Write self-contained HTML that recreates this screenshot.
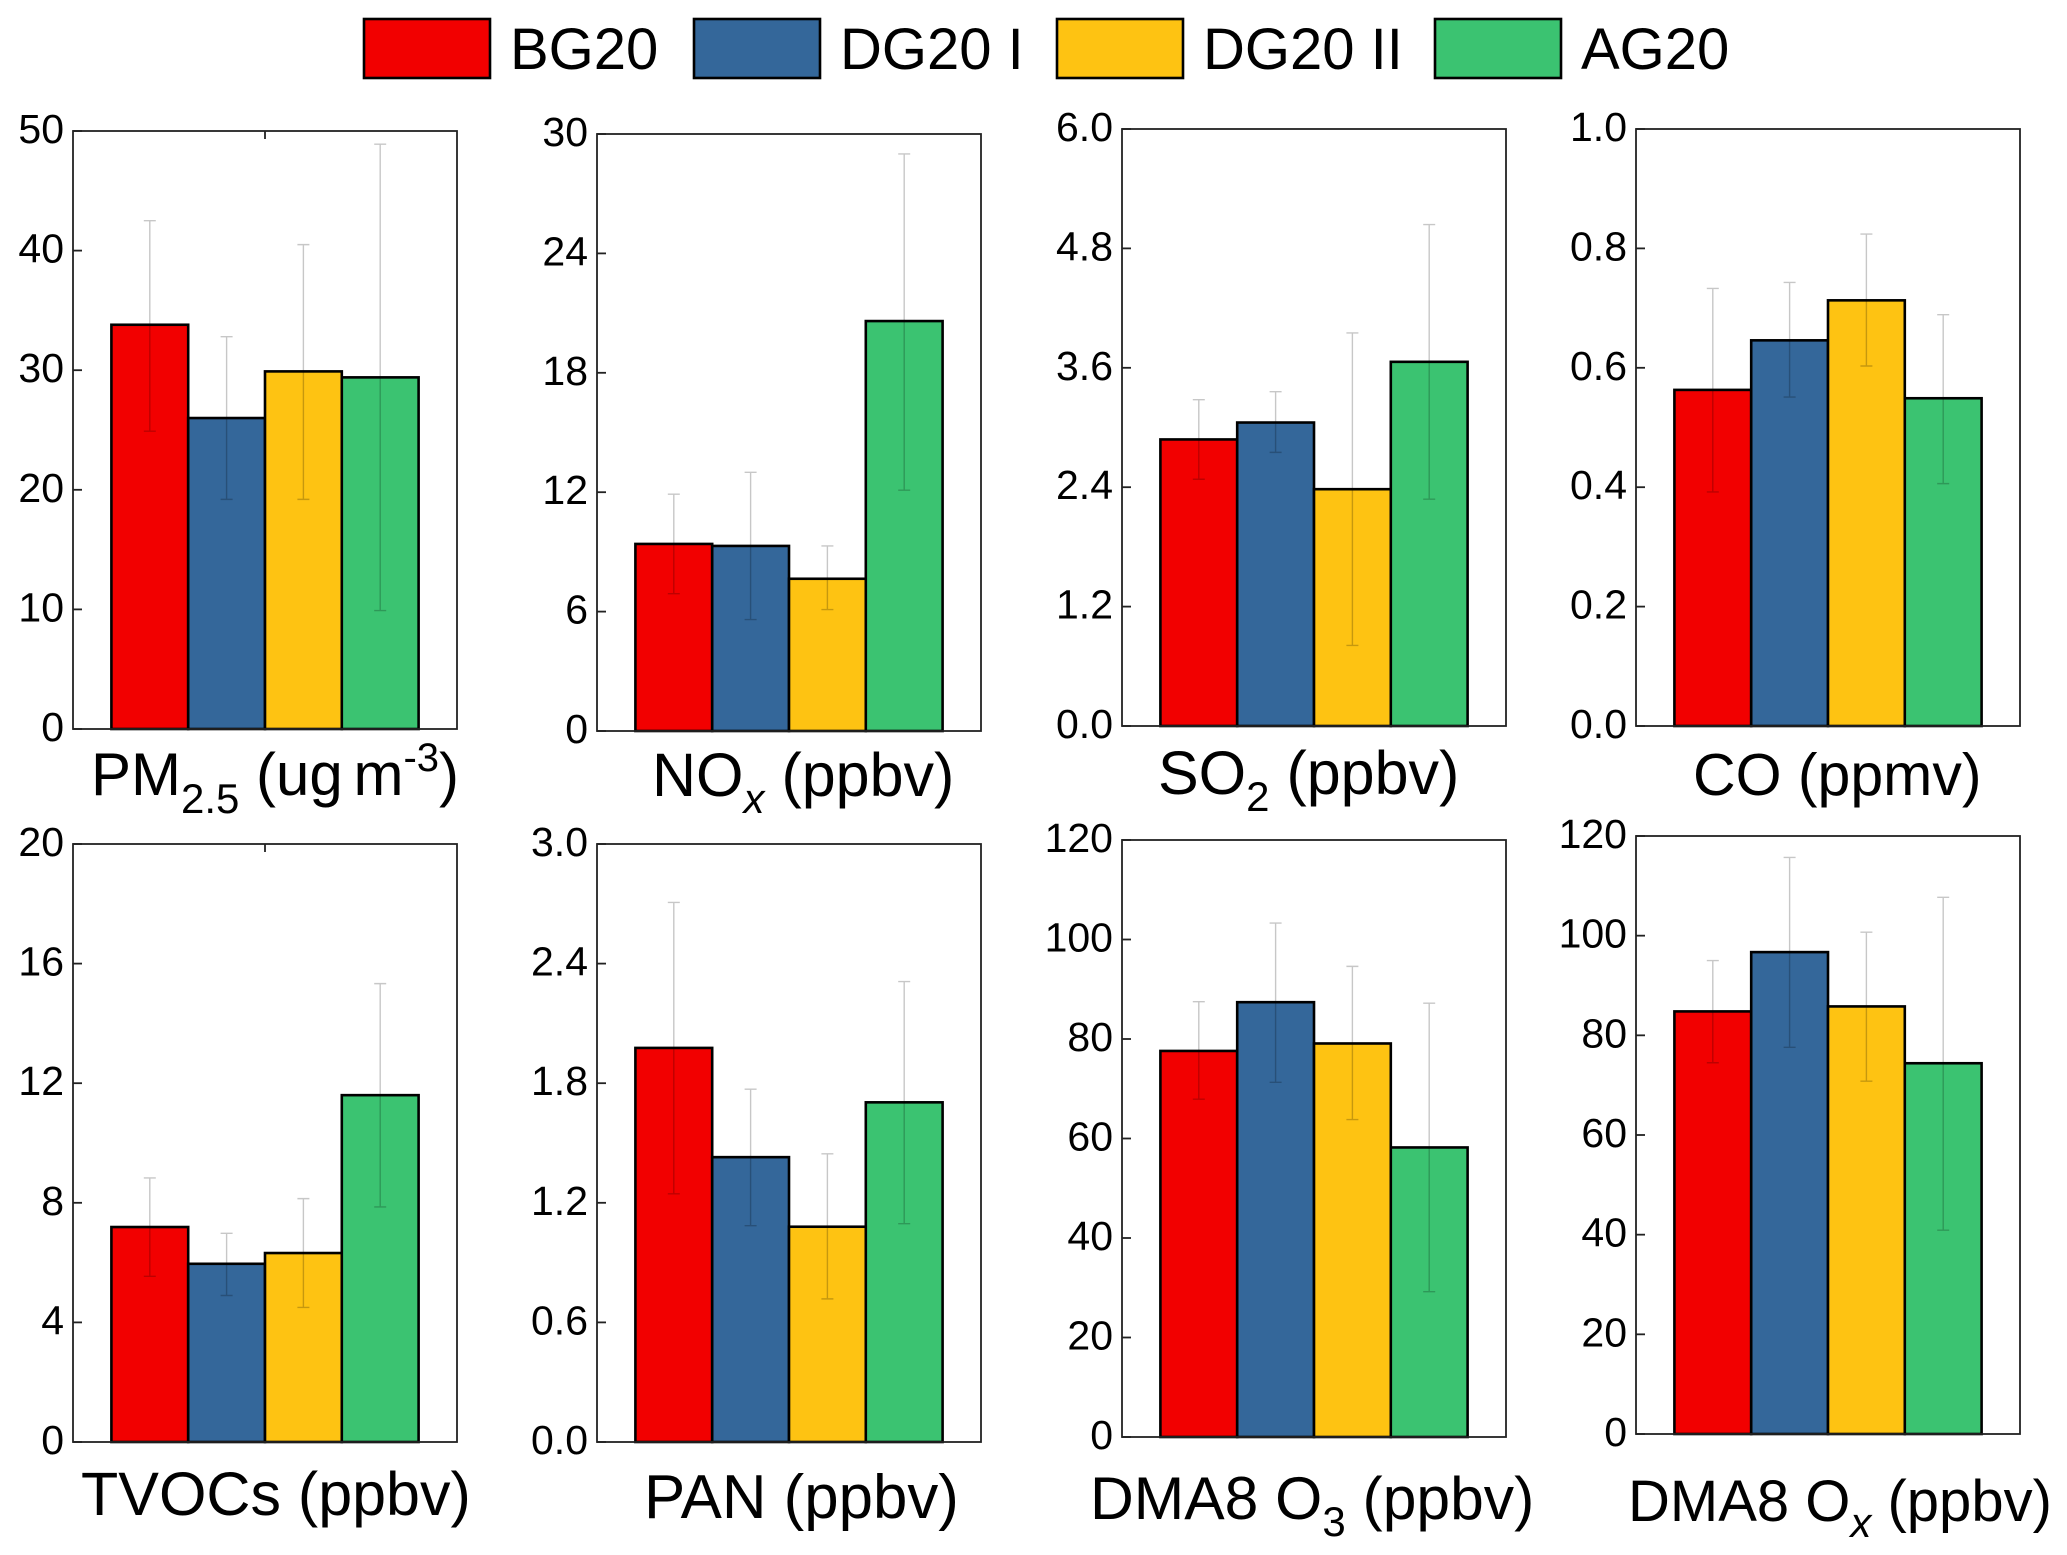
<!DOCTYPE html>
<html lang="en">
<head>
<meta charset="utf-8">
<title>Air quality by period</title>
<style>
html,body{margin:0;padding:0;background:#fff;}
svg{display:block;font-family:"Liberation Sans",Arial,sans-serif;fill:#000;}
.title{font-size:61px;}
.sub{font-size:42px;}
.legend-text{font-size:58px;}
.tick-label{font-size:41px;}
</style>
</head>
<body>
<svg id="chart" xmlns="http://www.w3.org/2000/svg" width="2067" height="1555" viewBox="0 0 2067 1555">
  <rect x="0" y="0" width="2067" height="1555" fill="#fff"/>
  <g>
    <g>
      <rect x="364" y="19" width="126" height="59" fill="#F20000" stroke="#000" stroke-width="2.6"/>
      <text class="legend-text" x="510" y="69">BG20</text>
    </g>
    <g>
      <rect x="694" y="19" width="126" height="59" fill="#34679A" stroke="#000" stroke-width="2.6"/>
      <text class="legend-text" x="840" y="69">DG20 I</text>
    </g>
    <g>
      <rect x="1057" y="19" width="126" height="59" fill="#FEC312" stroke="#000" stroke-width="2.6"/>
      <text class="legend-text" x="1203" y="69">DG20 II</text>
    </g>
    <g>
      <rect x="1435" y="19" width="126" height="59" fill="#3BC371" stroke="#000" stroke-width="2.6"/>
      <text class="legend-text" x="1581" y="69">AG20</text>
    </g>
  </g>
  <g>
    <text class="title" style="font-size:60px" x="91" y="795">PM<tspan class="sub" dy="18">2.5</tspan><tspan dy="-18"> (ug</tspan><tspan dx="-6"> m</tspan><tspan class="sub" style="font-size:40px" dy="-24">-3</tspan><tspan dy="24">)</tspan></text>
    <text class="title" x="652" y="796">NO<tspan class="sub" dy="17" font-style="italic">x</tspan><tspan dy="-17"> (ppbv)</tspan></text>
    <text class="title" x="1158" y="794">SO<tspan class="sub" dy="17">2</tspan><tspan dy="-17"> (ppbv)</tspan></text>
    <text class="title" style="font-size:59px" x="1693" y="795">CO (ppmv)</text>
    <text class="title" x="81" y="1515">TVOCs (ppbv)</text>
    <text class="title" style="font-size:61.8px" x="644" y="1518">PAN (ppbv)</text>
    <text class="title" style="font-size:60.6px" x="1090" y="1519">DMA8 O<tspan class="sub" dy="17">3</tspan><tspan dy="-17"> (ppbv)</tspan></text>
    <text class="title" style="font-size:58px" x="1628" y="1521">DMA8 O<tspan class="sub" dy="16" font-style="italic">x</tspan><tspan dy="-16"> (ppbv)</tspan></text>
  </g>
</svg>
<script>
const categories = ['BG20', 'DG20 I', 'DG20 II', 'AG20'];

const pm25Means = [33.8, 26.0, 29.9, 29.4];
const pm25Upper = [42.5, 32.8, 40.5, 48.9];
const pm25Lower = [24.9, 19.2, 19.2, 9.9];
const pm25Ticks = ['0', '10', '20', '30', '40', '50'];

const noxMeans = [9.4, 9.3, 7.65, 20.6];
const noxUpper = [11.9, 13.0, 9.3, 29.0];
const noxLower = [6.9, 5.6, 6.1, 12.1];
const noxTicks = ['0', '6', '12', '18', '24', '30'];

const so2Means = [2.88, 3.05, 2.38, 3.66];
const so2Upper = [3.28, 3.36, 3.95, 5.04];
const so2Lower = [2.48, 2.75, 0.81, 2.28];
const so2Ticks = ['0.0', '1.2', '2.4', '3.6', '4.8', '6.0'];

const coMeans = [0.563, 0.646, 0.713, 0.549];
const coUpper = [0.733, 0.743, 0.824, 0.689];
const coLower = [0.392, 0.551, 0.603, 0.406];
const coTicks = ['0.0', '0.2', '0.4', '0.6', '0.8', '1.0'];

const tvocsMeans = [7.19, 5.96, 6.32, 11.6];
const tvocsUpper = [8.83, 6.98, 8.14, 15.33];
const tvocsLower = [5.54, 4.9, 4.5, 7.86];
const tvocsTicks = ['0', '4', '8', '12', '16', '20'];

const panMeans = [1.977, 1.429, 1.08, 1.704];
const panUpper = [2.707, 1.77, 1.446, 2.31];
const panLower = [1.245, 1.085, 0.718, 1.095];
const panTicks = ['0.0', '0.6', '1.2', '1.8', '2.4', '3.0'];

const o3Means = [77.6, 87.4, 79.1, 58.2];
const o3Upper = [87.5, 103.3, 94.6, 87.2];
const o3Lower = [67.9, 71.3, 63.8, 29.2];
const o3Ticks = ['0', '20', '40', '60', '80', '100', '120'];

const oxMeans = [84.8, 96.7, 85.8, 74.4];
const oxUpper = [95.0, 115.7, 100.7, 107.7];
const oxLower = [74.5, 77.6, 70.8, 40.9];
const oxTicks = ['0', '20', '40', '60', '80', '100', '120'];

const colors = ['#F20000', '#34679A', '#FEC312', '#3BC371'];

const panels = [
  {id: 'pm25', means: pm25Means, upper: pm25Upper, lower: pm25Lower, ticks: pm25Ticks, left: 73, right: 457, top: 131, bottom: 729, topTick: true},
  {id: 'nox', means: noxMeans, upper: noxUpper, lower: noxLower, ticks: noxTicks, left: 597, right: 981, top: 134, bottom: 731, topTick: false},
  {id: 'so2', means: so2Means, upper: so2Upper, lower: so2Lower, ticks: so2Ticks, left: 1122, right: 1506, top: 129, bottom: 726, topTick: false},
  {id: 'co', means: coMeans, upper: coUpper, lower: coLower, ticks: coTicks, left: 1636, right: 2020, top: 129, bottom: 726, topTick: false},
  {id: 'tvocs', means: tvocsMeans, upper: tvocsUpper, lower: tvocsLower, ticks: tvocsTicks, left: 73, right: 457, top: 844, bottom: 1442, topTick: true},
  {id: 'pan', means: panMeans, upper: panUpper, lower: panLower, ticks: panTicks, left: 597, right: 981, top: 844, bottom: 1442, topTick: false},
  {id: 'o3', means: o3Means, upper: o3Upper, lower: o3Lower, ticks: o3Ticks, left: 1122, right: 1506, top: 840, bottom: 1437, topTick: false},
  {id: 'ox', means: oxMeans, upper: oxUpper, lower: oxLower, ticks: oxTicks, left: 1636, right: 2020, top: 836, bottom: 1434, topTick: false}
];

const NS = 'http://www.w3.org/2000/svg';
const svg = document.getElementById('chart');

function make(parent, tag, props) {
  const el = document.createElementNS(NS, tag);
  for (const k in props) el.setAttribute(k, props[k]);
  parent.appendChild(el);
  return el;
}

function drawPanel(p) {
  const width = p.right - p.left;
  const domainMax = parseFloat(p.ticks[p.ticks.length - 1]);
  const yScale = function (v) { return p.bottom - (v / domainMax) * (p.bottom - p.top); };
  const bandWidth = width * 0.2;
  const xScale = function (i) { return p.left + width * 0.1 + i * bandWidth; };

  const g = make(svg, 'g', {});
  
  

  categories.forEach(function (cat, i) {
    const y = yScale(p.means[i]);
    const bar = make(g, 'rect', {x: xScale(i), y: y, width: bandWidth, height: p.bottom - y, fill: colors[i], stroke: '#000', 'stroke-width': 2.6});
    
    
  });

  categories.forEach(function (cat, i) {
    const cx = xScale(i) + bandWidth / 2;
    const yHigh = yScale(p.upper[i]);
    const yLow = yScale(p.lower[i]);
    const err = make(g, 'path', {
      d: 'M' + cx + ' ' + yHigh + 'V' + yLow + 'M' + (cx - 6) + ' ' + yHigh + 'H' + (cx + 6) + 'M' + (cx - 6) + ' ' + yLow + 'H' + (cx + 6),
      fill: 'none', stroke: 'rgba(0,0,0,0.22)', 'stroke-width': 1.4
    });
    
    
  });

  const frame = make(g, 'rect', {x: p.left, y: p.top, width: width, height: p.bottom - p.top, fill: 'none', stroke: '#222', 'stroke-width': 1.8});
  
  

  p.ticks.forEach(function (label) {
    const y = yScale(parseFloat(label));
    const tick = make(g, 'line', {x1: p.left, x2: p.left + 9, y1: y, y2: y, stroke: '#222', 'stroke-width': 1.8});
    
    
    const text = make(g, 'text', {x: p.left - 9, y: y + 12, 'text-anchor': 'end', class: 'tick-label'});
    
    
    text.textContent = label;
  });

  if (p.topTick) {
    const mid = p.left + width / 2;
    const topTick = make(g, 'line', {x1: mid, x2: mid, y1: p.top, y2: p.top + 8, stroke: '#222', 'stroke-width': 1.8});
    
    
  }
}

panels.forEach(drawPanel);
</script>
</body>
</html>
